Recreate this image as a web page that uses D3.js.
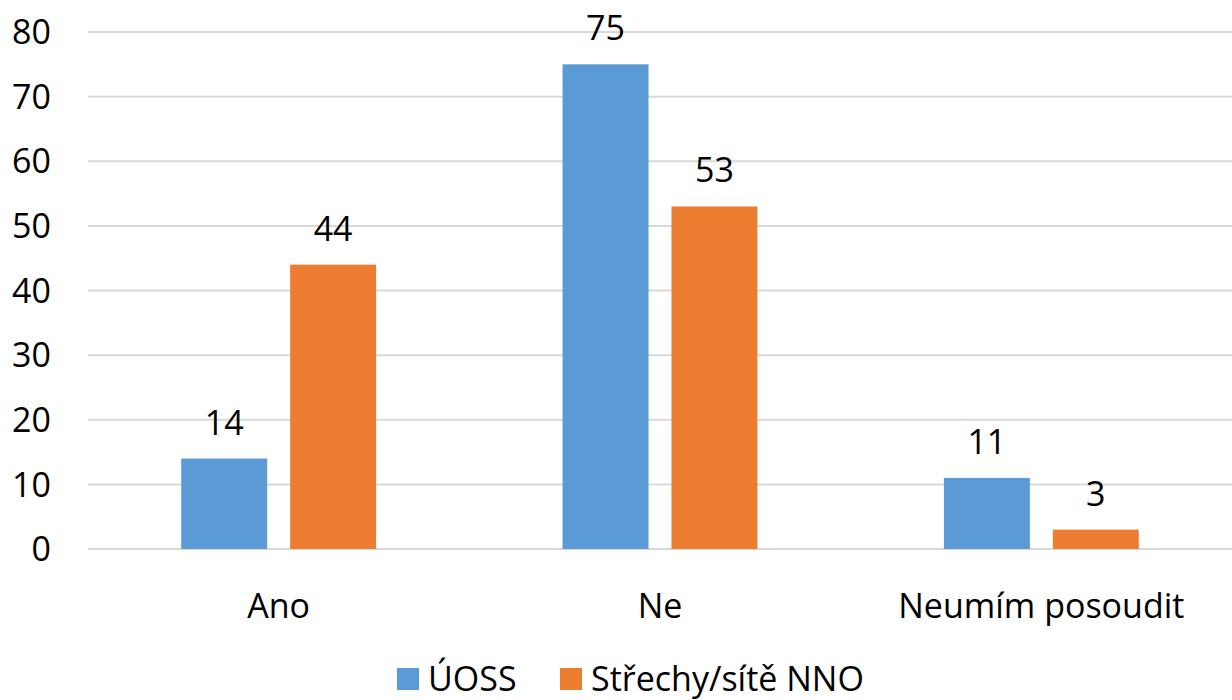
<!DOCTYPE html>
<html lang="cs">
<head>
<meta charset="UTF-8">
<title>Chart</title>
<script src="https://d3js.org/d3.v7.min.js"></script>
<style>
  body { margin: 0; background: #fff; }
  svg { display: block; font-family: "Open Sans", sans-serif; }
</style>
</head>
<body>
<svg id="chart" width="1232" height="700"></svg>
<script>
const categories = ["Ano", "Ne", "Neumím posoudit"];
const seriesNames = ["ÚOSS", "Střechy/sítě NNO"];
const uoss = [14, 75, 11];
const strechy = [44, 53, 3];
const yTicks = [0, 10, 20, 30, 40, 50, 60, 70, 80];
const colors = ["#5b9bd5", "#ed7d31"];

const svg = d3.select("#chart");
const margin = { left: 88, right: 0, top: 32, bottom: 151 };
const width = 1232 - margin.left - margin.right;
const height = 700 - margin.top - margin.bottom;
const fs = 34;

const g = svg.append("g").attr("transform", `translate(${margin.left},${margin.top})`);

const x0 = d3.scaleBand().domain(categories).range([0, width]).paddingInner(0.489).paddingOuter(0.2445);
const x1 = d3.scaleBand().domain(seriesNames).range([0, x0.bandwidth()]).paddingInner(0.211);
const y = d3.scaleLinear().domain([0, 80]).range([height, 0]);

// gridlines
g.selectAll(".grid").data(yTicks).enter().append("line")
  .attr("x1", 0).attr("x2", width)
  .attr("y1", d => y(d)).attr("y2", d => y(d))
  .attr("stroke", "#d9d9d9").attr("stroke-width", 2);

// y labels
g.selectAll(".ylab").data(yTicks).enter().append("text")
  .attr("x", -37).attr("y", d => y(d))
  .attr("dy", "0.36em")
  .attr("text-anchor", "end")
  .attr("font-size", fs).attr("fill", "#000")
  .text(d => d);

const series = [uoss, strechy];
series.forEach((vals, si) => {
  const data = categories.map((c, i) => ({ c, v: vals[i] }));
  g.selectAll(".bar" + si).data(data).enter().append("rect")
    .attr("x", d => x0(d.c) + x1(seriesNames[si]))
    .attr("y", d => y(d.v))
    .attr("width", x1.bandwidth())
    .attr("height", d => y(0) - y(d.v))
    .attr("fill", colors[si]);
  g.selectAll(".val" + si).data(data).enter().append("text")
    .attr("x", d => x0(d.c) + x1(seriesNames[si]) + x1.bandwidth() / 2)
    .attr("y", d => y(d.v) - 24)
    .attr("text-anchor", "middle")
    .attr("font-size", fs).attr("fill", "#000")
    .text(d => d.v);
});

// x labels
g.selectAll(".xlab").data(categories).enter().append("text")
  .attr("x", d => x0(d) + x0.bandwidth() / 2)
  .attr("y", height + 69)
  .attr("text-anchor", "middle")
  .attr("font-size", fs).attr("fill", "#000")
  .text(d => d);

// legend
const legend = svg.append("g");
const legendX = [397, 560];
seriesNames.forEach((s, i) => {
  legend.append("rect")
    .attr("x", legendX[i]).attr("y", 668)
    .attr("width", 22).attr("height", 22)
    .attr("fill", colors[i]);
  legend.append("text")
    .attr("x", legendX[i] + 31).attr("y", 691)
    .attr("font-size", fs).attr("fill", "#000")
    .text(s);
});
</script>
</body>
</html>
